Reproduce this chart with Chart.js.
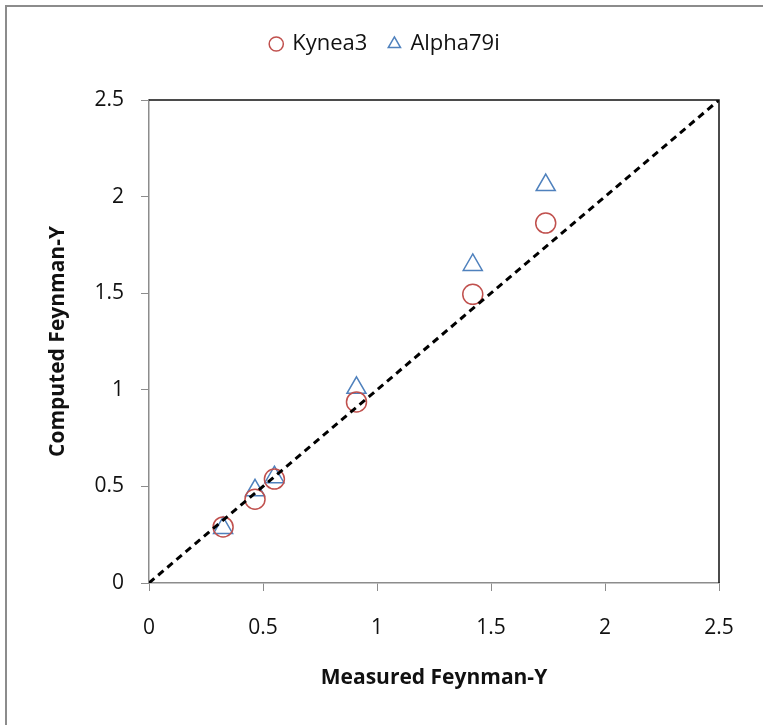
<!DOCTYPE html>
<html>
<head>
<meta charset="utf-8">
<script src="https://cdn.jsdelivr.net/npm/chart.js@4"></script>
<style>
  html, body { margin: 0; padding: 0; background: #fff; }
  #wrap { width: 763px; height: 725px; position: relative; }
</style>
</head>
<body>
<div id="wrap"><canvas id="feynmanChart" width="763" height="725"></canvas></div>
<script>
//Data
const measured = [0.325, 0.465, 0.55, 0.91, 1.42, 1.74];
const kynea3 = [0.29, 0.434, 0.538, 0.937, 1.494, 1.863];
const alpha79i = [0.285, 0.48, 0.548, 1.01, 1.646, 2.06];
const parityLine = [0, 2.5];
const tickValues = [0, 0.5, 1, 1.5, 2, 2.5];

const fontFamily = "'Open Sans', 'DejaVu Sans', sans-serif";
const tickFont = { family: fontFamily, size: 21 };
const legendFont = { family: fontFamily, size: 22 };
const titleFont = { family: fontFamily, size: 21, weight: 'bold' };

//Outer frame + top/right plot border
const framePlugin = {
    id: 'frame',
    beforeDraw(chart) {
        const ctx = chart.ctx;
        ctx.save();
        ctx.strokeStyle = '#8c8c8c';
        ctx.lineWidth = 2;
        ctx.strokeRect(6, 6, 1000, 1000);
        ctx.restore();
    },
    afterDraw(chart) {
        const a = chart.chartArea;
        const ctx = chart.ctx;
        ctx.save();
        ctx.strokeStyle = '#111';
        ctx.lineWidth = 1.5;
        ctx.beginPath();
        ctx.moveTo(a.left, a.top);
        ctx.lineTo(a.right, a.top);
        ctx.lineTo(a.right, a.bottom);
        ctx.stroke();
        ctx.restore();
    }
};

//Extra space under the legend
const legendGap = {
    id: 'legendGap',
    beforeLayout(chart) {
        const lg = chart.legend;
        if (lg && !lg._gapPatched) {
            const fit = lg.fit;
            lg.fit = function() {
                fit.call(this);
                this.height += 35;
            };
            lg._gapPatched = true;
        }
    }
};

function toPoints(xs, ys) {
    return xs.map((x, i) => ({ x: x, y: ys[i] }));
}

document.addEventListener('DOMContentLoaded', function() {
    const ctx = document.getElementById('feynmanChart').getContext('2d');

    const data = {
        datasets: [
            {
                label: 'Kynea3',
                data: toPoints(measured, kynea3),
                pointStyle: 'circle',
                pointRadius: 10,
                borderColor: '#c0504d',
                backgroundColor: 'rgba(0,0,0,0)',
                borderWidth: 1.5,
                order: 1
            },
            {
                label: 'Alpha79i',
                data: toPoints(measured, alpha79i),
                pointStyle: 'triangle',
                pointRadius: 11,
                borderColor: '#4f81bd',
                backgroundColor: 'rgba(0,0,0,0)',
                borderWidth: 1.5,
                order: 2
            },
            {
                type: 'line',
                label: 'y = x',
                data: toPoints(parityLine, parityLine),
                borderColor: '#000',
                borderWidth: 3,
                borderDash: [7, 5],
                pointRadius: 0,
                fill: false,
                order: 0
            }
        ]
    };

    const options = {
        responsive: false,
        animation: false,
        layout: { padding: { left: 52, right: 44, top: 11, bottom: 0 } },
        scales: {
            x: {
                type: 'linear',
                min: 0,
                max: 2.5,
                afterBuildTicks: s => { s.ticks = tickValues.map(v => ({ value: v })); },
                afterFit: s => { s.height = 142; },
                grid: { display: true, drawOnChartArea: false, drawTicks: true, tickLength: 8, color: '#8c8c8c' },
                border: { color: '#8c8c8c', width: 1.5 },
                ticks: { font: tickFont, color: '#111', padding: 24, maxRotation: 0, callback: v => String(v) },
                title: { display: true, text: 'Measured Feynman-Y', font: titleFont, color: '#111', padding: { top: 0, bottom: 34 } }
            },
            y: {
                type: 'linear',
                min: 0,
                max: 2.5,
                afterBuildTicks: s => { s.ticks = tickValues.map(v => ({ value: v })); },
                afterFit: s => { s.width = 97; },
                grid: { display: true, drawOnChartArea: false, drawTicks: true, tickLength: 8, color: '#8c8c8c' },
                border: { color: '#8c8c8c', width: 1.5 },
                ticks: { font: tickFont, color: '#111', padding: 17, callback: v => String(v) },
                title: { display: true, text: 'Computed Feynman-Y', font: titleFont, color: '#111', padding: { top: -6.6, bottom: 0 } }
            }
        },
        plugins: {
            legend: {
                position: 'top',
                labels: {
                    usePointStyle: true,
                    boxWidth: 10,
                    boxHeight: 10,
                    padding: 22,
                    font: legendFont,
                    color: '#111',
                    filter: item => item.text !== 'y = x'
                }
            },
            tooltip: { enabled: false }
        }
    };

    new Chart(ctx, {
        type: 'scatter',
        data: data,
        options: options,
        plugins: [framePlugin, legendGap]
    });
});
</script>
</body>
</html>
